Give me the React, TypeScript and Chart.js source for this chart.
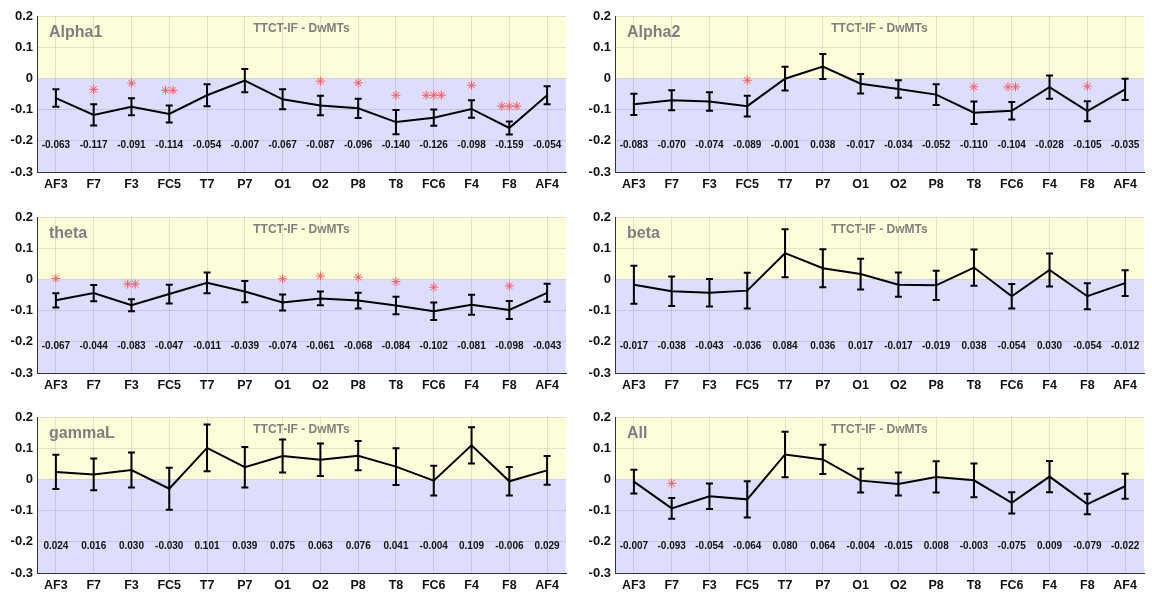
import React, { useEffect, useRef } from 'react';
import { Chart, registerables } from 'chart.js';
Chart.register(...registerables);

const channels = ['AF3', 'F7', 'F3', 'FC5', 'T7', 'P7', 'O1', 'O2', 'P8', 'T8', 'FC6', 'F4', 'F8', 'AF4'];
const yTicks = [-0.3, -0.2, -0.1, 0, 0.1, 0.2];
const subTitle = 'TTCT-IF - DwMTs';
const labelRowY = -0.215;

const alpha1Mean = [-0.063, -0.117, -0.091, -0.114, -0.054, -0.007, -0.067, -0.087, -0.096, -0.140, -0.126, -0.098, -0.159, -0.054];
const alpha1Err = [0.028, 0.034, 0.027, 0.027, 0.035, 0.037, 0.032, 0.031, 0.031, 0.039, 0.026, 0.028, 0.021, 0.029];
const alpha1Stars = [[1, -0.035, 1], [2, -0.015, 1], [3, -0.038, 2], [7, -0.009, 1], [8, -0.014, 1], [9, -0.054, 1], [10, -0.054, 3], [11, -0.022, 1], [12, -0.089, 3]];

const alpha2Mean = [-0.083, -0.070, -0.074, -0.089, -0.001, 0.038, -0.017, -0.034, -0.052, -0.110, -0.104, -0.028, -0.105, -0.035];
const alpha2Err = [0.034, 0.032, 0.030, 0.033, 0.038, 0.040, 0.031, 0.028, 0.033, 0.036, 0.028, 0.037, 0.032, 0.034];
const alpha2Stars = [[3, -0.006, 1], [9, -0.027, 1], [10, -0.027, 2], [12, -0.025, 1]];

const thetaMean = [-0.067, -0.044, -0.083, -0.047, -0.011, -0.039, -0.074, -0.061, -0.068, -0.084, -0.102, -0.081, -0.098, -0.043];
const thetaErr = [0.023, 0.026, 0.019, 0.030, 0.033, 0.034, 0.026, 0.022, 0.025, 0.028, 0.028, 0.032, 0.029, 0.029];
const thetaStars = [[0, 0.003, 1], [2, -0.015, 2], [6, 0.002, 1], [7, 0.011, 1], [8, 0.007, 1], [9, -0.007, 1], [10, -0.025, 1], [12, -0.021, 1]];

const betaMean = [-0.017, -0.038, -0.043, -0.036, 0.084, 0.036, 0.017, -0.017, -0.019, 0.038, -0.054, 0.030, -0.054, -0.012];
const betaErr = [0.061, 0.047, 0.044, 0.057, 0.077, 0.061, 0.049, 0.039, 0.047, 0.058, 0.039, 0.053, 0.042, 0.041];
const betaStars: number[][] = [];

const gammaLMean = [0.024, 0.016, 0.030, -0.030, 0.101, 0.039, 0.075, 0.063, 0.076, 0.041, -0.004, 0.109, -0.006, 0.029];
const gammaLErr = [0.055, 0.051, 0.056, 0.067, 0.075, 0.065, 0.053, 0.052, 0.047, 0.059, 0.048, 0.058, 0.046, 0.046];
const gammaLStars: number[][] = [];

const allMean = [-0.007, -0.093, -0.054, -0.064, 0.080, 0.064, -0.004, -0.015, 0.008, -0.003, -0.075, 0.009, -0.079, -0.022];
const allErr = [0.038, 0.033, 0.041, 0.058, 0.073, 0.047, 0.038, 0.037, 0.050, 0.054, 0.034, 0.050, 0.033, 0.040];
const allStars = [[1, -0.013, 1]];

const panels = [
  { name: 'Alpha1', mean: alpha1Mean, err: alpha1Err, stars: alpha1Stars },
  { name: 'Alpha2', mean: alpha2Mean, err: alpha2Err, stars: alpha2Stars },
  { name: 'theta', mean: thetaMean, err: thetaErr, stars: thetaStars },
  { name: 'beta', mean: betaMean, err: betaErr, stars: betaStars },
  { name: 'gammaL', mean: gammaLMean, err: gammaLErr, stars: gammaLStars },
  { name: 'All', mean: allMean, err: allErr, stars: allStars },
];

const FONT = '"Liberation Sans", Arial, Helvetica, sans-serif';
const STAR_STEP = 0.2;

function starPoints(stars: number[][]) {
  const pts: { x: number; y: number }[] = [];
  stars.forEach(([i, y, n]) => {
    for (let k = 0; k < n; k++) pts.push({ x: i + (k - (n - 1) / 2) * STAR_STEP, y });
  });
  return pts;
}

function fmtTick(v: number) {
  const r = Math.round(v * 10) / 10;
  return r === 0 ? '0' : String(r);
}

function decor(p: any) {
  return {
    id: 'decor',
    beforeDraw(chart: any) {
      const { ctx, chartArea: a, scales } = chart;
      const y = scales.y;
      const y0 = y.getPixelForValue(0);
      ctx.save();
      ctx.fillStyle = '#FEFDD9';
      ctx.fillRect(a.left, y.getPixelForValue(0.2), a.right - a.left, y0 - y.getPixelForValue(0.2));
      ctx.fillStyle = '#DDDDFD';
      ctx.fillRect(a.left, y0, a.right - a.left, y.getPixelForValue(-0.3) - y0);
      ctx.restore();
    },
    beforeDatasetsDraw(chart: any) {
      const { ctx, scales } = chart;
      const x = scales.x, y = scales.y;
      ctx.save();
      ctx.strokeStyle = '#000';
      ctx.lineWidth = 2;
      p.mean.forEach((m: number, i: number) => {
        const px = x.getPixelForValue(i);
        const t = y.getPixelForValue(m + p.err[i]);
        const b = y.getPixelForValue(m - p.err[i]);
        ctx.beginPath();
        ctx.moveTo(px, t); ctx.lineTo(px, b);
        ctx.moveTo(px - 3.5, t); ctx.lineTo(px + 3.5, t);
        ctx.moveTo(px - 3.5, b); ctx.lineTo(px + 3.5, b);
        ctx.stroke();
      });
      ctx.restore();
    },
    afterDatasetsDraw(chart: any) {
      const { ctx, chartArea: a, scales } = chart;
      const x = scales.x, y = scales.y;
      ctx.save();
      ctx.fillStyle = '#111';
      ctx.font = `bold 10px ${FONT}`;
      ctx.textAlign = 'center';
      ctx.textBaseline = 'middle';
      p.mean.forEach((m: number, i: number) => {
        ctx.fillText(m.toFixed(3), x.getPixelForValue(i), y.getPixelForValue(labelRowY));
      });
      ctx.fillStyle = '#7f7f7f';
      ctx.font = `bold 12px ${FONT}`;
      ctx.fillText(subTitle, (a.left + a.right) / 2, a.top + 13);
      ctx.font = `bold 16px ${FONT}`;
      ctx.textAlign = 'left';
      ctx.fillText(p.name, a.left + 12, a.top + 17);
      ctx.restore();
    },
  };
}

function Panel({ p, left, top }: { p: any; left: number; top: number }) {
  const ref = useRef<HTMLCanvasElement>(null);
  useEffect(() => {
    const chart = new Chart(ref.current as HTMLCanvasElement, {
      type: 'line',
      data: {
        datasets: [
          {
            data: p.mean.map((v: number, i: number) => ({ x: i, y: v })),
            borderColor: '#000',
            borderWidth: 2,
            pointRadius: 0,
            fill: false,
            tension: 0,
          } as any,
          {
            type: 'scatter',
            data: starPoints(p.stars),
            pointStyle: 'star',
            pointRadius: 4.5,
            borderColor: '#ff5a5a',
            backgroundColor: '#ff5a5a',
            pointBorderWidth: 1,
            showLine: false,
          } as any,
        ],
      },
      options: {
        responsive: false,
        animation: false,
        layout: { padding: { left: 0, right: 10, top: 16, bottom: 0 } },
        plugins: { legend: { display: false }, tooltip: { enabled: false } },
        scales: {
          x: {
            type: 'linear',
            min: -0.5,
            max: 13.5,
            afterBuildTicks: (s: any) => { s.ticks = channels.map((_, i) => ({ value: i })); },
            afterFit: (s: any) => { s.height = 28; },
            ticks: {
              autoSkip: false,
              maxRotation: 0,
              padding: 5,
              color: '#111',
              font: { family: FONT, size: 12.5, weight: 'bold' },
              callback: (v: any) => channels[v] ?? '',
            },
            grid: { color: 'rgba(0,0,0,0.1)', drawTicks: false },
            border: { color: '#333', width: 1 },
          },
          y: {
            min: -0.3,
            max: 0.2,
            afterBuildTicks: (s: any) => { s.ticks = yTicks.map((v) => ({ value: v })); },
            afterFit: (s: any) => { s.width = 37; },
            ticks: {
              padding: 4,
              color: '#111',
              font: { family: FONT, size: 13, weight: 'bold' },
              callback: (v: any) => fmtTick(Number(v)),
            },
            grid: { color: 'rgba(0,0,0,0.1)', drawTicks: false },
            border: { color: '#333', width: 1 },
          },
        },
      } as any,
      plugins: [decor(p)],
    });
    return () => chart.destroy();
  }, []);
  return (
    <div style={{ position: 'absolute', left, top, width: 576, height: 200 }}>
      <canvas ref={ref} width={576} height={200} />
    </div>
  );
}

export default function App() {
  const lefts = [0, 578];
  const tops = [0, 201, 401];
  return (
    <div style={{ position: 'absolute', left: 0, top: 0, width: 1152, height: 592, background: '#fff' }}>
      {panels.map((p, k) => (
        <Panel key={p.name} p={p} left={lefts[k % 2]} top={tops[Math.floor(k / 2)]} />
      ))}
    </div>
  );
}
